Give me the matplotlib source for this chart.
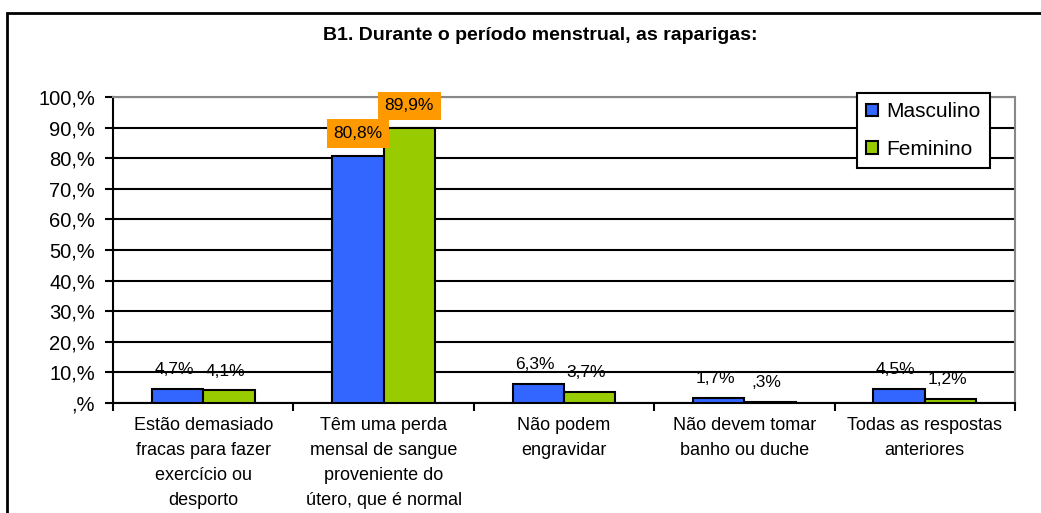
import matplotlib
matplotlib.use("Agg")
import matplotlib.pyplot as plt
from matplotlib.patches import Rectangle
import numpy as np

plt.rcParams['font.family'] = ['Liberation Sans', 'DejaVu Sans']

categories = [
    "Estão demasiado\nfracas para fazer\nexercício ou\ndesporto",
    "Têm uma perda\nmensal de sangue\nproveniente do\nútero, que é normal",
    "Não podem\nengravidar",
    "Não devem tomar\nbanho ou duche",
    "Todas as respostas\nanteriores",
]
masculino = [4.7, 80.8, 6.3, 1.7, 4.5]
feminino = [4.1, 89.9, 3.7, 0.3, 1.2]
masc_labels = ["4,7%", "80,8%", "6,3%", "1,7%", "4,5%"]
fem_labels = ["4,1%", "89,9%", "3,7%", ",3%", "1,2%"]
yticks = [0, 10, 20, 30, 40, 50, 60, 70, 80, 90, 100]
ytick_labels = [",%", "10,%", "20,%", "30,%", "40,%", "50,%", "60,%", "70,%", "80,%", "90,%", "100,%"]

blue = "#3366FF"
green = "#99CC00"
orange = "#FF9900"

fig = plt.figure(figsize=(10.41, 5.13), dpi=100)
ax = fig.add_axes([0.1086, 0.2144, 0.8664, 0.5966])

x = np.arange(len(categories))
w = 0.285
ax.bar(x - w / 2, masculino, w, color=blue, edgecolor="black", linewidth=1.5, label="Masculino", zorder=3)
ax.bar(x + w / 2, feminino, w, color=green, edgecolor="black", linewidth=1.5, label="Feminino", zorder=3)

# data labels, the two big ones sit on orange boxes
for i in range(len(categories)):
    for xi, v, lab in [(x[i] - w / 2, masculino[i], masc_labels[i]), (x[i] + w / 2, feminino[i], fem_labels[i])]:
        if v > 50:
            ax.annotate(lab, (xi, v), xytext=(0, 16), textcoords="offset points",
                        ha="center", va="center", fontsize=12.5, zorder=5,
                        bbox=dict(boxstyle="square,pad=0.38", fc=orange, ec="none"))
        else:
            ax.annotate(lab, (xi, v), xytext=(-2.5, 14), textcoords="offset points",
                        ha="center", va="center", fontsize=12.5, zorder=5)

ax.set_xlim(-0.5, len(categories) - 0.5)
ax.set_ylim(0, 100)
ax.set_yticks(yticks)
ax.set_yticklabels(ytick_labels, fontsize=14.5)
ax.set_xticks(x)
ax.set_xticklabels(categories, fontsize=13, linespacing=1.62)
ax.tick_params(axis="x", length=0, pad=10)
ax.set_xticks(np.arange(len(categories) + 1) - 0.5, minor=True)
ax.tick_params(axis="x", which="minor", length=6, width=1.5, direction="out")
ax.tick_params(axis="y", length=6, width=1.5, direction="out", pad=7)

ax.yaxis.grid(True, color="black", linewidth=1.5, zorder=0)
ax.set_axisbelow(True)
for s in ["left", "bottom"]:
    ax.spines[s].set_linewidth(1.5)
    ax.spines[s].set_color("black")
for s in ["top", "right"]:
    ax.spines[s].set_linewidth(1.5)
    ax.spines[s].set_color("#888888")

leg = ax.legend(loc="upper right", bbox_to_anchor=(0.972, 1.013), fontsize=15,
                frameon=True, fancybox=False, edgecolor="black", framealpha=1,
                handlelength=0.55, handleheight=0.55, handletextpad=0.4,
                labelspacing=0.9, borderpad=0.45, borderaxespad=0)
leg.get_frame().set_linewidth(1.5)

fig.text(0.519, 0.93, "B1. Durante o período menstrual, as raparigas:",
         ha="center", va="center", fontsize=14, fontweight="bold")

# outer chart frame, runs off the right and bottom edges
fig.patches.append(Rectangle((7 / 1041, -0.1), 1.2, 1.1 - 13 / 513, transform=fig.transFigure,
                             fill=False, edgecolor="black", linewidth=2))

fig.savefig("out.png", dpi=100)
